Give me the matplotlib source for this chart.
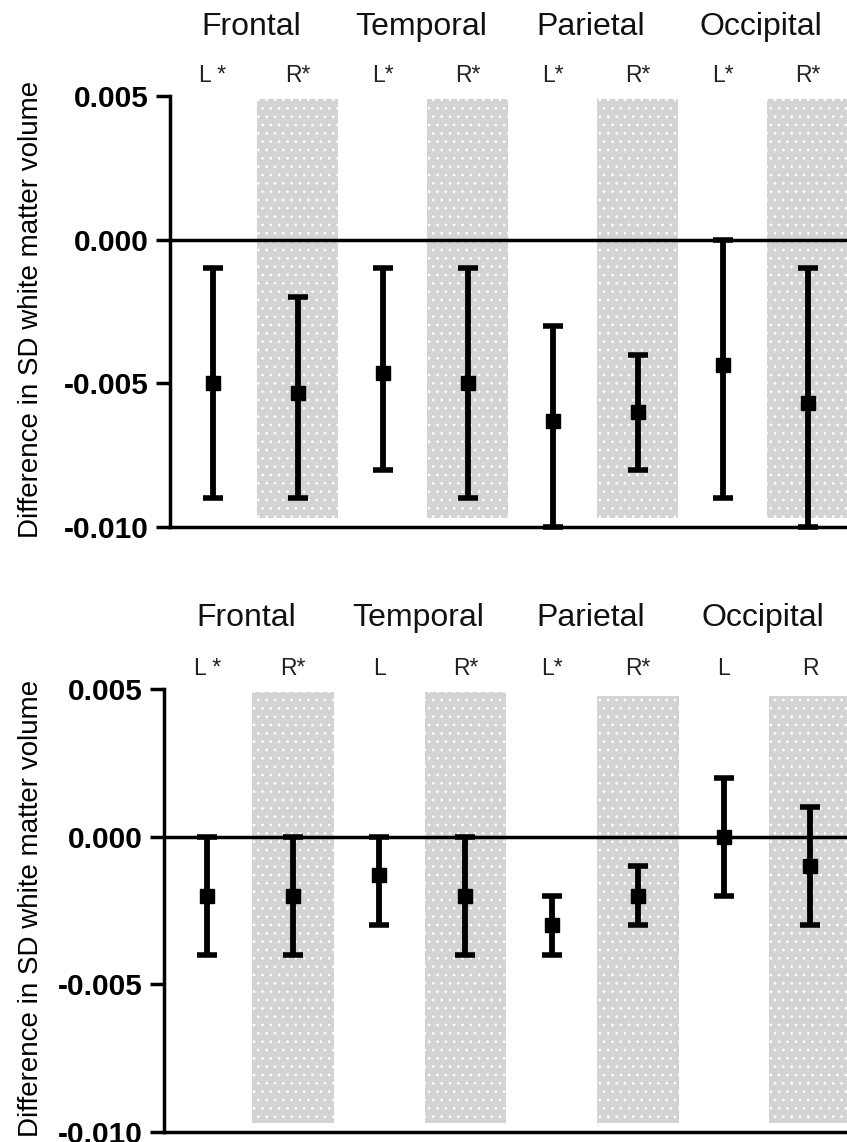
"""
Regional white matter volume differences, two panels with L/R error bars.
"""
import matplotlib
matplotlib.use('Agg')
import matplotlib.pyplot as plt

plt.rcParams['font.family'] = ['Liberation Sans', 'DejaVu Sans']
plt.rcParams['hatch.color'] = 'white'
plt.rcParams['hatch.linewidth'] = 0.7

# data
regions = ['Frontal', 'Temporal', 'Parietal', 'Occipital']
yticks = [0.005, 0.000, -0.005, -0.010]
ytick_labels = ['0.005', '0.000', '-0.005', '-0.010']

top_sides = ['L *', 'R*', 'L*', 'R*', 'L*', 'R*', 'L*', 'R*']
top_mean = [-0.0050, -0.00535, -0.00465, -0.0050, -0.0063, -0.0060, -0.00435, -0.0057]
top_low = [-0.009, -0.009, -0.008, -0.009, -0.010, -0.008, -0.009, -0.010]
top_high = [-0.001, -0.002, -0.001, -0.001, -0.003, -0.004, 0.000, -0.001]

bot_sides = ['L *', 'R*', 'L', 'R*', 'L*', 'R*', 'L', 'R']
bot_mean = [-0.0020, -0.0020, -0.0013, -0.0020, -0.0030, -0.0020, 0.0000, -0.0010]
bot_low = [-0.004, -0.004, -0.003, -0.004, -0.004, -0.003, -0.002, -0.003]
bot_high = [0.000, 0.000, 0.000, 0.000, -0.002, -0.001, 0.002, 0.001]

W, H = 847, 1142


def draw_panel(ax, sides, mean, low, high, band_tops, xmax):
    pos = list(range(len(mean)))
    ax.set_xlim(-0.5, xmax)
    ax.set_ylim(-0.010, 0.005)

    # grey dotted bands behind the right-hemisphere points
    for i, top in zip(pos[1::2], band_tops):
        ax.bar(i, top + 0.0097, bottom=-0.0097, width=0.95, color='#d3d3d3',
               edgecolor='white', linewidth=0, hatch='..', zorder=0)

    ax.axhline(0, color='black', lw=2.5, zorder=2)

    yerr = [[m - lo for m, lo in zip(mean, low)], [hi - m for m, hi in zip(mean, high)]]
    ax.errorbar(pos, mean, yerr=yerr, fmt='s', color='black', ms=10.5,
                elinewidth=4.2, capsize=7, capthick=4, zorder=3, clip_on=False)

    for spine in ('top', 'right'):
        ax.spines[spine].set_visible(False)
    for spine in ('left', 'bottom'):
        ax.spines[spine].set_linewidth(2.5)

    ax.set_xticks([])
    ax.set_yticks(yticks)
    ax.set_yticklabels(ytick_labels, fontsize=21.5, fontweight='bold')
    ax.tick_params(axis='y', length=10, width=2.5, pad=5)

    for i, s in zip(pos, sides):
        ax.text(i, 1.047, s, transform=ax.get_xaxis_transform(), ha='center',
                va='center', fontsize=16.5, color='#222222')
    for k, name in enumerate(regions):
        ax.text(2 * k + 0.45, 1.16, name, transform=ax.get_xaxis_transform(),
                ha='center', va='center', fontsize=23, color='#111111')


fig = plt.figure(figsize=(W / 100, H / 100), dpi=100)

ax_top = fig.add_axes([170 / W, 1 - 527 / H, (W - 170) / W, (527 - 96) / H])
draw_panel(ax_top, top_sides, top_mean, top_low, top_high,
           [0.0049, 0.0049, 0.0049, 0.0049], 7.46)

ax_bot = fig.add_axes([164 / W, 1 - 1132 / H, (W - 164) / W, (1132 - 689) / H])
draw_panel(ax_bot, bot_sides, bot_mean, bot_low, bot_high,
           [0.0049, 0.0049, 0.00475, 0.00475], 7.43)

label = 'Difference in SD white matter volume'
fig.text(31 / W, 1 - 309 / H, label, rotation=90, ha='center', va='center', fontsize=20)
fig.text(31 / W, 1 - 908 / H, label, rotation=90, ha='center', va='center', fontsize=20)

fig.savefig('out.png', dpi=100)
